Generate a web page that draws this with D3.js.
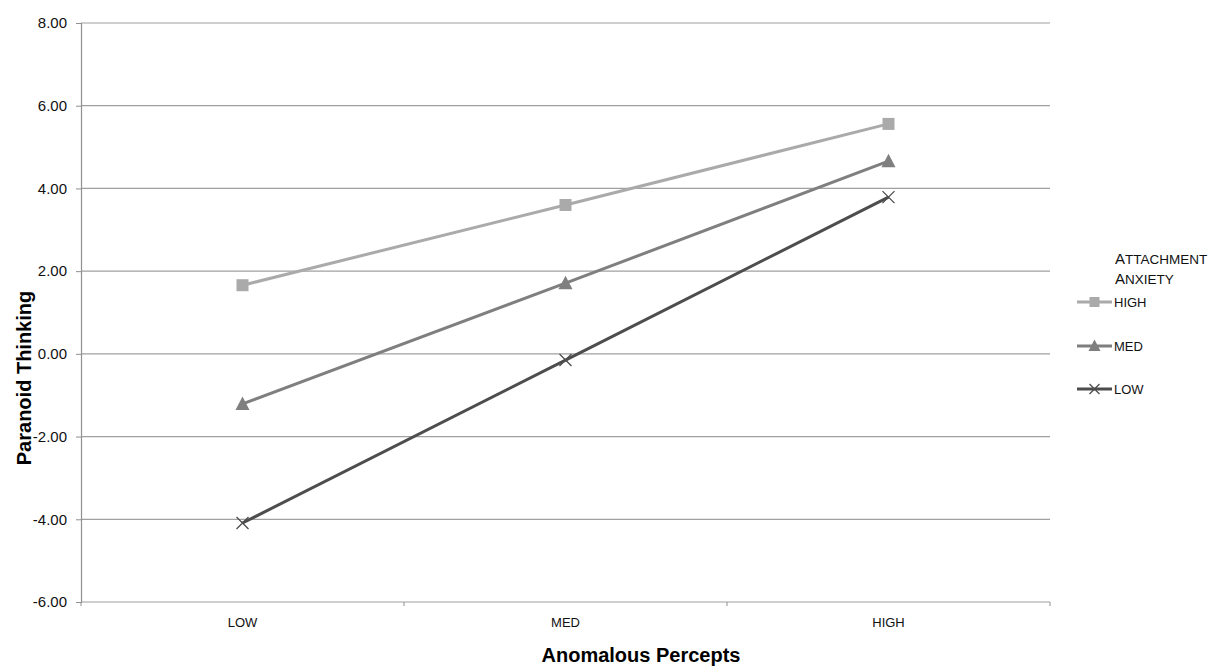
<!DOCTYPE html>
<html><head><meta charset="utf-8">
<script src="https://cdn.jsdelivr.net/npm/d3@7"></script>
<style>body{margin:0;background:#fff;} text{font-family:"Liberation Sans",Arial,sans-serif;}</style>
</head><body>
<svg id="c" width="1219" height="666"></svg>
<script>
const categories = ["LOW","MED","HIGH"];
const seriesNames = ["HIGH","MED","LOW"];
const highValues = [1.66, 3.60, 5.56];
const medValues = [-1.21, 1.71, 4.66];
const lowValues = [-4.09, -0.15, 3.79];
const yTicks = [-6,-4,-2,0,2,4,6,8];

const series = [
  {name:seriesNames[0], values:highValues, color:"#aaaaaa", marker:"square"},
  {name:seriesNames[1], values:medValues, color:"#7f7f7f", marker:"triangle"},
  {name:seriesNames[2], values:lowValues, color:"#4d4d4d", marker:"x"}
];

const svg = d3.select("#c");
const L=81, R=1050, T=23, B=602;
const x = d3.scaleBand().domain(categories).range([L,R]);
const y = d3.scaleLinear().domain([-6,8]).range([B,T]);
const fmt = d => d.toFixed(2);

// gridlines
svg.append("g").selectAll("line").data(yTicks).join("line")
  .attr("x1",L).attr("x2",R).attr("y1",d=>y(d)).attr("y2",d=>y(d))
  .attr("stroke","#a0a0a0").attr("stroke-width",1.2);

// y axis
const ya = svg.append("g").attr("transform",`translate(${L},0)`)
  .call(d3.axisLeft(y).tickValues(yTicks).tickSize(5).tickPadding(9).tickFormat(fmt));
ya.select(".domain").attr("stroke","#909090").attr("stroke-width",1.2);
ya.selectAll(".tick line").attr("stroke","#909090");
ya.selectAll("text").attr("font-size",15).attr("fill","#111").style("font-family","'Liberation Sans',Arial,sans-serif");

// x axis
const xa = svg.append("g").attr("transform",`translate(0,${B})`)
  .call(d3.axisBottom(x).tickSize(0).tickPadding(16));
xa.select(".domain").remove();
xa.selectAll("text").attr("font-size",13).attr("fill","#111").style("font-family","'Liberation Sans',Arial,sans-serif");
const bounds = [L, ...categories.map(c=>x(c)+x.bandwidth())];
svg.append("g").selectAll("line").data(bounds).join("line")
  .attr("x1",d=>d).attr("x2",d=>d).attr("y1",B).attr("y2",B+4)
  .attr("stroke","#909090");

function drawMarker(g, type, color, cx, cy, s){
  if(type==="square"){
    g.append("rect").attr("x",cx-s).attr("y",cy-s).attr("width",2*s).attr("height",2*s).attr("fill",color);
  } else if(type==="triangle"){
    g.append("path").attr("d",`M${cx},${cy-s-1.5}L${cx+s+1},${cy+s}L${cx-s-1},${cy+s}Z`).attr("fill",color);
  } else {
    g.append("path").attr("d",`M${cx-s},${cy-s}L${cx+s},${cy+s}M${cx-s},${cy+s}L${cx+s},${cy-s}`).attr("stroke",color).attr("stroke-width",1.3).attr("fill","none");
  }
}

const line = d3.line().x((d,i)=>x(categories[i])+x.bandwidth()/2).y(d=>y(d));
series.forEach(s=>{
  const g = svg.append("g");
  g.append("path").attr("d",line(s.values)).attr("fill","none").attr("stroke",s.color).attr("stroke-width",3);
  s.values.forEach((v,i)=>drawMarker(g,s.marker,s.color,x(categories[i])+x.bandwidth()/2,y(v),6));
});

// axis titles
svg.append("text").attr("x",641).attr("y",662).attr("text-anchor","middle")
  .attr("font-size",20).attr("font-weight","bold").attr("fill","#000").text("Anomalous Percepts");
svg.append("text").attr("transform",`translate(31,378) rotate(-90)`).attr("text-anchor","middle")
  .attr("font-size",20).attr("font-weight","bold").attr("fill","#000").text("Paranoid Thinking");

// legend
const lg = svg.append("g");
const t1 = lg.append("text").attr("x",1115).attr("y",264).attr("fill","#111");
t1.append("tspan").attr("font-size",15).text("A");
t1.append("tspan").attr("font-size",13.5).text("TTACHMENT");
const t2 = lg.append("text").attr("x",1115).attr("y",284).attr("fill","#111");
t2.append("tspan").attr("font-size",15).text("A");
t2.append("tspan").attr("font-size",13.5).text("NXIETY");
const legY = [302,346,389];
series.forEach((s,i)=>{
  lg.append("line").attr("x1",1077).attr("x2",1112).attr("y1",legY[i]).attr("y2",legY[i]).attr("stroke",s.color).attr("stroke-width",3);
  drawMarker(lg,s.marker,s.color,1094.5,legY[i],5);
  lg.append("text").attr("x",1114).attr("y",legY[i]+5).attr("font-size",13).attr("fill","#111").text(s.name);
});
</script>
</body></html>
